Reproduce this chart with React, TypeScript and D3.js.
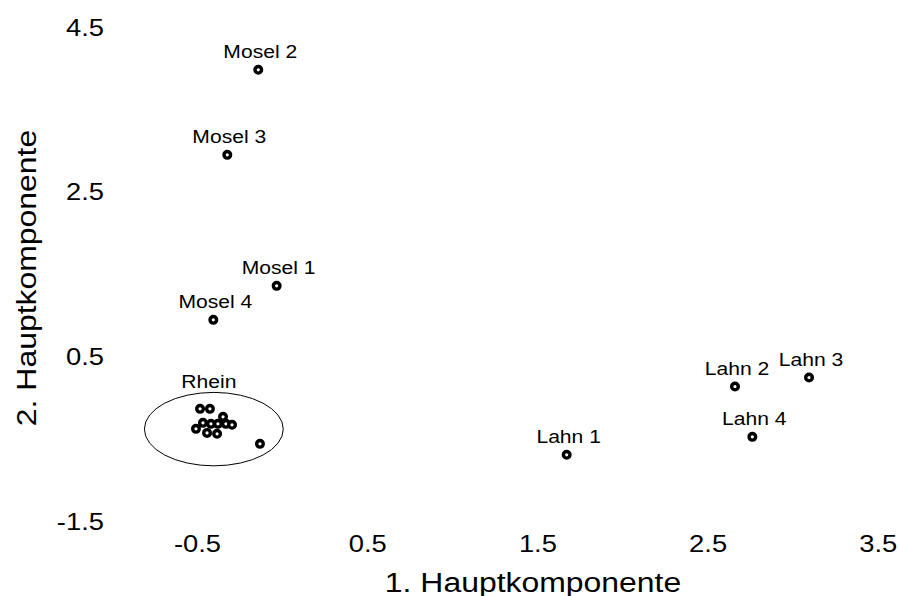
import React from "react";
import * as d3 from "d3";

// Principal component scores of water samples (PC1, PC2)
const labelledNames = ["Mosel 1", "Mosel 2", "Mosel 3", "Mosel 4", "Lahn 1", "Lahn 2", "Lahn 3", "Lahn 4"];
const labelledPc1 = [-0.035, -0.143, -0.325, -0.407, 1.669, 2.658, 3.093, 2.76];
const labelledPc2 = [1.356, 3.98, 2.947, 0.943, -0.696, 0.133, 0.242, -0.478];

const rheinPc1 = [-0.485, -0.427, -0.35, -0.468, -0.421, -0.38, -0.333, -0.297, -0.509, -0.444, -0.385, -0.133];
const rheinPc2 = [-0.138, -0.138, -0.235, -0.308, -0.32, -0.32, -0.32, -0.332, -0.381, -0.43, -0.441, -0.563];

// Grouping ellipse around the Rhein samples: centre and half-axes in score units
const rheinGroupLabel = "Rhein";
const rheinEllipseCenter = [-0.404, -0.384];
const rheinEllipseRadii = [0.408, 0.446];

const xTicks = [-0.5, 0.5, 1.5, 2.5, 3.5];
const yTicks = [-1.5, 0.5, 2.5, 4.5];
const xTitle = "1. Hauptkomponente";
const yTitle = "2. Hauptkomponente";

const W = 899;
const H = 596;
const FONT = "'Liberation Sans', Arial, Helvetica, sans-serif";
const STRETCH = 1.14;

export default function App() {
  const x = d3.scaleLinear().domain([-0.5, 3.5]).range([197.5, 878.3]);
  const y = d3.scaleLinear().domain([-1.5, 4.5]).range([521, 27]);

  const labelled = labelledNames.map((name, i) => ({ name, pc1: labelledPc1[i], pc2: labelledPc2[i] }));
  const rhein = rheinPc1.map((v, i) => ({ pc1: v, pc2: rheinPc2[i] }));

  const ecx = x(rheinEllipseCenter[0]);
  const ecy = y(rheinEllipseCenter[1]);
  const erx = x(rheinEllipseCenter[0] + rheinEllipseRadii[0]) - ecx;
  const ery = ecy - y(rheinEllipseCenter[1] + rheinEllipseRadii[1]);

  const marker = (cx: number, cy: number, key: string) => (
    <circle key={key} cx={cx} cy={cy} r={3.3} fill="#fff" stroke="#000" strokeWidth={3.4} />
  );

  return (
    <svg
      width={W}
      height={H}
      viewBox={`0 0 ${W} ${H}`}
      style={{ position: "absolute", left: 0, top: 0, background: "#fff" }}
      fontFamily={FONT}
    >
      <rect width={W} height={H} fill="#fff" />

      {/* y tick labels */}
      {yTicks.map((t) => (
        <text
          key={`yt${t}`}
          transform={`translate(104,${y(t) + 8.6}) scale(${STRETCH},1)`}
          textAnchor="end"
          fontSize={24}
          fill="#000"
        >
          {t.toFixed(1)}
        </text>
      ))}

      {/* x tick labels */}
      {xTicks.map((t) => (
        <text
          key={`xt${t}`}
          transform={`translate(${x(t)},551.7) scale(${STRETCH},1)`}
          textAnchor="middle"
          fontSize={24}
          fill="#000"
        >
          {t.toFixed(1)}
        </text>
      ))}

      {/* axis titles */}
      <text
        transform={`translate(533,591.5) scale(${STRETCH},1)`}
        textAnchor="middle"
        fontSize={28}
        fill="#000"
      >
        {xTitle}
      </text>
      <text
        transform={`translate(35.5,278) rotate(-90) scale(${STRETCH},1)`}
        textAnchor="middle"
        fontSize={28}
        fill="#000"
      >
        {yTitle}
      </text>

      {/* Rhein group */}
      <ellipse cx={ecx} cy={ecy} rx={erx} ry={ery} fill="none" stroke="#000" strokeWidth={1} />
      <text
        transform={`translate(${ecx - 5},${ecy - ery - 4.5}) scale(${STRETCH},1)`}
        textAnchor="middle"
        fontSize={18.5}
        fill="#000"
      >
        {rheinGroupLabel}
      </text>
      {rhein.map((d, i) => marker(x(d.pc1), y(d.pc2), `r${i}`))}

      {/* labelled samples */}
      {labelled.map((d) => (
        <g key={d.name}>
          {marker(x(d.pc1), y(d.pc2), `m${d.name}`)}
          <text
            transform={`translate(${x(d.pc1) + 2},${y(d.pc2) - 11.5}) scale(${STRETCH},1)`}
            textAnchor="middle"
            fontSize={18.5}
            fill="#000"
          >
            {d.name}
          </text>
        </g>
      ))}
    </svg>
  );
}
